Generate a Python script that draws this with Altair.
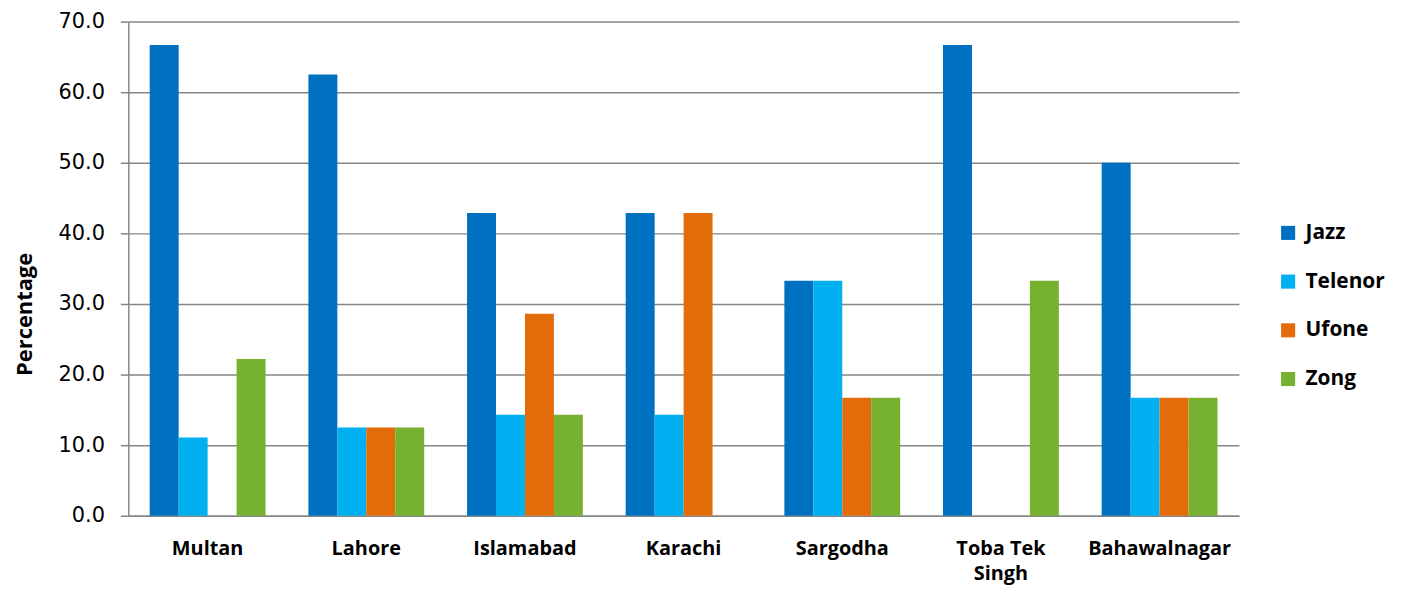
import altair as alt
import pandas as pd

cities = ["Multan", "Lahore", "Islamabad", "Karachi", "Sargodha", "Toba Tek Singh", "Bahawalnagar"]
operators = ["Jazz", "Telenor", "Ufone", "Zong"]
jazz = [66.7, 62.5, 42.9, 42.9, 33.3, 66.7, 50.0]
telenor = [11.1, 12.5, 14.3, 14.3, 33.3, 0.0, 16.7]
ufone = [0.0, 12.5, 28.6, 42.9, 16.7, 0.0, 16.7]
zong = [22.2, 12.5, 14.3, 0.0, 16.7, 33.3, 16.7]
colors = ["#0070C0", "#00B0F0", "#E36C0A", "#77B130"]

rows = []
for series, name in zip([jazz, telenor, ufone, zong], operators):
    for c, v in zip(cities, series):
        rows.append({"City": c, "Operator": name, "Value": v})
df = pd.DataFrame(rows)

chart = alt.Chart(df).mark_bar().encode(
    x=alt.X("City:N", sort=cities,
            scale=alt.Scale(paddingInner=0.27, paddingOuter=0.135),
            axis=alt.Axis(title=None, labelAngle=0, labelFont="Open Sans", labelFontWeight="bold",
                          labelFontSize=20, labelColor="#000000", labelPadding=23, ticks=False,
                          domainColor="#868686", domainWidth=1.5, labelBaseline="top",
                          labelLineHeight=25,
                          labelExpr="datum.label == 'Toba Tek Singh' ? ['Toba Tek', 'Singh'] : datum.label")),
    xOffset=alt.XOffset("Operator:N", sort=operators),
    y=alt.Y("Value:Q", scale=alt.Scale(domain=[0, 70], nice=False),
            axis=alt.Axis(title="Percentage", values=[0, 10, 20, 30, 40, 50, 60, 70], format=".1f",
                          labelFont="DejaVu Sans", labelFontSize=21, labelColor="#000000",
                          labelPadding=16, tickSize=8, tickColor="#868686", tickWidth=1.5,
                          domainColor="#868686", domainWidth=1.5,
                          gridColor="#868686", gridWidth=1.5,
                          titleFont="Open Sans", titleFontWeight="bold", titleFontSize=22,
                          titleColor="#000000", titleX=-104, titleY=294, titleAngle=-90,
                          titleAlign="center", titleBaseline="middle")),
    color=alt.Color("Operator:N", sort=operators,
                    scale=alt.Scale(domain=operators, range=colors),
                    legend=alt.Legend(title=None, orient="none", legendX=1156, legendY=202,
                                      symbolType="square", symbolSize=200, symbolStrokeWidth=0,
                                      labelFont="Open Sans", labelFontWeight="bold",
                                      labelFontSize=21, labelColor="#000000",
                                      rowPadding=27, labelOffset=7)),
).properties(
    width=1117, height=497,
    autosize=alt.AutoSizeParams(type="none"),
    padding={"left": 121, "top": 12, "right": 160, "bottom": 74},
).configure_view(stroke=None).configure_axis(labelOverlap=False)

chart.save("out.html", embed_options={"renderer": "svg", "actions": False})
